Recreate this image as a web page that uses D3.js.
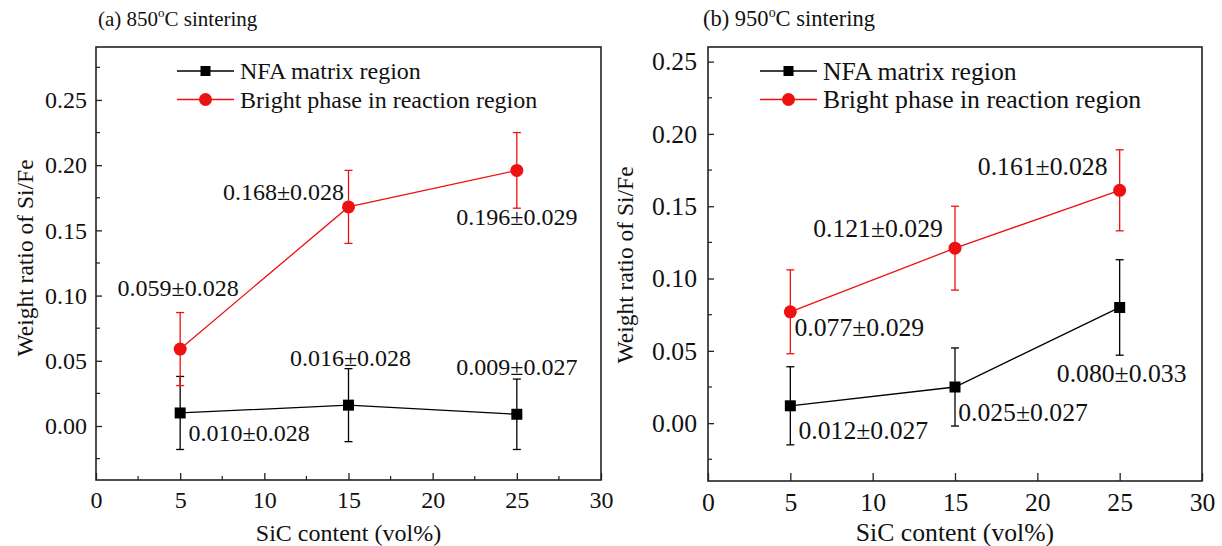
<!DOCTYPE html>
<html><head><meta charset="utf-8">
<script src="https://cdn.jsdelivr.net/npm/d3@7"></script>
</head><body style="margin:0;background:#fff">
<script>
const sicContent = [5, 15, 25];
const seriesNames = ["NFA matrix region", "Bright phase in reaction region"];
const xTicks = [0, 5, 10, 15, 20, 25, 30];
const yTicks = [0.00, 0.05, 0.10, 0.15, 0.20, 0.25];
// 850 °C
const nfa850 = [0.010, 0.016, 0.009];
const nfa850Err = [0.028, 0.028, 0.027];
const bright850 = [0.059, 0.168, 0.196];
const bright850Err = [0.028, 0.028, 0.029];
// 950 °C
const nfa950 = [0.012, 0.025, 0.080];
const nfa950Err = [0.027, 0.027, 0.033];
const bright950 = [0.077, 0.121, 0.161];
const bright950Err = [0.029, 0.029, 0.028];

const FONT = "'Liberation Serif', 'Times New Roman', Times, monospace";
const W = 1222, H = 546;
const svg = d3.select("body").append("svg").attr("width", W).attr("height", H)
  .attr("font-family", FONT).style("display", "block");

const panels = [
  { title: ["(a) 850", "C sintering"], left: 96, right: 601, top: 47, bottom: 480, yDom: [-0.0414, 0.2906],
    minorX: true, legX: 177, titleX: 98, yTitleX: 33, yTitleY: 258, yPad: 9, fs: 24, tfs: 21, xPad: 11,
    series: [
      { v: nfa850, e: nfa850Err, color: "#000", shape: "square",
        ann: [[69, 20], [2, -48], [0, -48]] },
      { v: bright850, e: bright850Err, color: "#ee1111", shape: "circle",
        ann: [[-2, -61], [-65, -15], [0, 46]] }
    ] },
  { title: ["(b) 950", "C sintering"], left: 708, right: 1202, top: 47, bottom: 481, yDom: [-0.040, 0.2601],
    minorX: false, legX: 760, titleX: 703, yTitleX: 633, yTitleY: 265, yPad: 11, fs: 25.7, tfs: 22.5, xPad: 12,
    series: [
      { v: nfa950, e: nfa950Err, color: "#000", shape: "square",
        ann: [[73, 24], [68, 25], [2, 66]] },
      { v: bright950, e: bright950Err, color: "#ee1111", shape: "circle",
        ann: [[69, 15], [-77, -20], [-77, -24]] }
    ] }
];

function txt(sel) { return sel.attr("font-family", FONT).attr("fill", "#111"); }

panels.forEach(p => {
  const g = svg.append("g");
  const x = d3.scaleLinear().domain([0, 30]).range([p.left, p.right]);
  const y = d3.scaleLinear().domain(p.yDom).range([p.bottom, p.top]);

  const xAxis = d3.axisBottom(x).tickValues(xTicks).tickSize(-(p.minorX ? 7 : 8)).tickPadding(p.xPad).tickFormat(d3.format("d"));
  const gx = g.append("g").attr("transform", `translate(0,${p.bottom})`).call(xAxis);
  gx.attr("font-family", FONT).attr("font-size", p.fs);
  gx.select(".domain").remove();
  gx.selectAll("line").attr("stroke", "#222").attr("stroke-width", 1.3);
  txt(gx.selectAll("text"));
  if (p.minorX) {
    const mx = d3.range(2.5, 30, 5);
    g.append("g").selectAll("line").data(mx).join("line")
      .attr("x1", d => x(d)).attr("x2", d => x(d)).attr("y1", p.bottom).attr("y2", p.bottom - 4)
      .attr("stroke", "#222").attr("stroke-width", 1.2);
  }
  const yAxis = d3.axisLeft(y).tickValues(yTicks).tickSize(-6).tickPadding(p.yPad).tickFormat(d3.format(".2f"));
  const gy = g.append("g").attr("transform", `translate(${p.left},0)`).call(yAxis);
  gy.attr("font-family", FONT).attr("font-size", p.fs);
  gy.select(".domain").remove();
  gy.selectAll("line").attr("stroke", "#222").attr("stroke-width", 1.3);
  txt(gy.selectAll("text"));
  const myv = d3.range(-0.025, p.yDom[1], 0.05);
  g.append("g").selectAll("line").data(myv).join("line")
    .attr("x1", p.left).attr("x2", p.left + 4).attr("y1", d => y(d)).attr("y2", d => y(d))
    .attr("stroke", "#222").attr("stroke-width", 1.2);

  g.append("rect").attr("x", p.left).attr("y", p.top).attr("width", p.right - p.left).attr("height", p.bottom - p.top)
    .attr("fill", "none").attr("stroke", "#222").attr("stroke-width", 1.6);

  const t = txt(g.append("text")).attr("x", p.titleX).attr("y", 26).attr("font-size", p.tfs);
  t.append("tspan").text(p.title[0]);
  t.append("tspan").attr("dy", -9).attr("font-size", p.tfs * 0.62).text("o");
  t.append("tspan").attr("dy", 9).text(p.title[1]);

  txt(g.append("text")).attr("x", (p.left + p.right) / 2).attr("y", 541).attr("text-anchor", "middle")
    .attr("font-size", p.fs).text("SiC content (vol%)");
  txt(g.append("text")).attr("transform", `translate(${p.yTitleX},${p.yTitleY}) rotate(-90)`)
    .attr("text-anchor", "middle").attr("font-size", 23.5).text("Weight ratio of Si/Fe");

  p.series.forEach((s, si) => {
    const pts = sicContent.map((c, i) => ({ c, v: s.v[i], e: s.e[i], a: s.ann[i] }));
    g.append("path").datum(pts)
      .attr("d", d3.line().x(d => x(d.c)).y(d => y(d.v)))
      .attr("fill", "none").attr("stroke", s.color).attr("stroke-width", 1.3);
    const eb = g.append("g").attr("stroke", s.color).attr("stroke-width", 1.3);
    pts.forEach(d => {
      eb.append("line").attr("x1", x(d.c)).attr("x2", x(d.c)).attr("y1", y(d.v - d.e)).attr("y2", y(d.v + d.e));
      [d.v - d.e, d.v + d.e].forEach(yy => eb.append("line")
        .attr("x1", x(d.c) - 4).attr("x2", x(d.c) + 4).attr("y1", y(yy)).attr("y2", y(yy)));
    });
    pts.forEach(d => {
      if (s.shape === "square") {
        g.append("rect").attr("x", x(d.c) - 5.5).attr("y", y(d.v) - 5.5).attr("width", 11).attr("height", 11).attr("fill", s.color);
      } else {
        g.append("circle").attr("cx", x(d.c)).attr("cy", y(d.v)).attr("r", 6.5).attr("fill", s.color);
      }
      txt(g.append("text")).attr("x", x(d.c) + d.a[0]).attr("y", y(d.v) + d.a[1]).attr("dy", "0.35em")
        .attr("text-anchor", "middle").attr("font-size", p.fs)
        .text(d3.format(".3f")(d.v) + "±" + d3.format(".3f")(d.e));
    });

    const ly = 71 + si * 28.5;
    g.append("line").attr("x1", p.legX).attr("x2", p.legX + 57).attr("y1", ly).attr("y2", ly)
      .attr("stroke", s.color).attr("stroke-width", 1.3);
    if (s.shape === "square") {
      g.append("rect").attr("x", p.legX + 28.5 - 5).attr("y", ly - 5).attr("width", 10).attr("height", 10).attr("fill", s.color);
    } else {
      g.append("circle").attr("cx", p.legX + 28.5).attr("cy", ly).attr("r", 6.5).attr("fill", s.color);
    }
    txt(g.append("text")).attr("x", p.legX + 63).attr("y", ly).attr("dy", "0.35em").attr("font-size", p.fs).text(seriesNames[si]);
  });
});
</script>
</body></html>
